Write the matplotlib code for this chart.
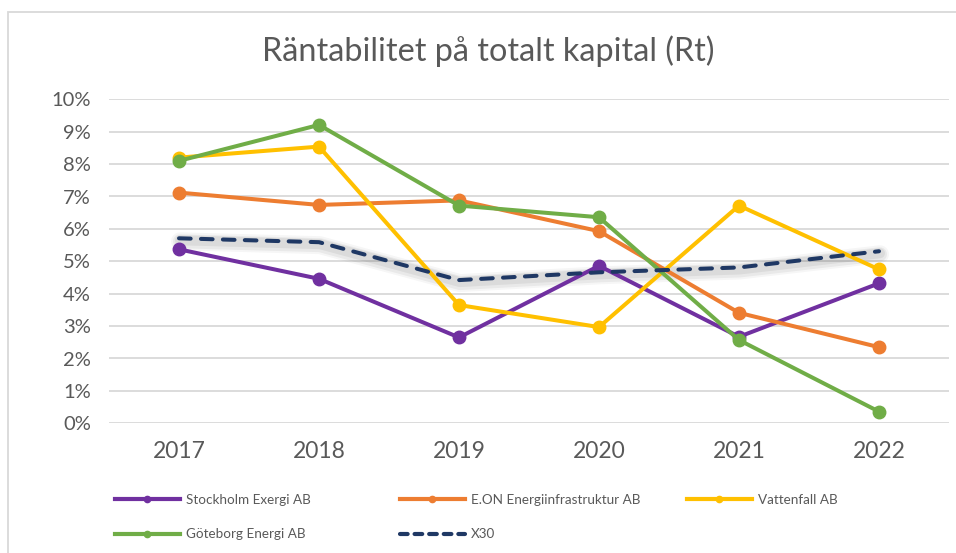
import matplotlib
matplotlib.use("Agg")
import matplotlib.pyplot as plt
import matplotlib.transforms as mtransforms
from matplotlib.patches import Rectangle
from matplotlib.lines import Line2D
from matplotlib.ticker import PercentFormatter

plt.rcParams['font.family'] = ['Lato', 'DejaVu Sans']
plt.rcParams['lines.scale_dashes'] = False

# ---- data ----
years = ["2017", "2018", "2019", "2020", "2021", "2022"]
stockholm = [5.37, 4.46, 2.65, 4.86, 2.67, 4.32]
eon = [7.12, 6.74, 6.88, 5.93, 3.41, 2.35]
vattenfall = [8.20, 8.54, 3.65, 2.97, 6.72, 4.75]
goteborg = [8.10, 9.21, 6.72, 6.36, 2.57, 0.36]
x30 = [5.71, 5.59, 4.42, 4.66, 4.81, 5.31]
yticks = [0, 1, 2, 3, 4, 5, 6, 7, 8, 9, 10]

names = ["Stockholm Exergi AB", "E.ON Energiinfrastruktur AB", "Vattenfall AB",
         "Göteborg Energi AB", "X30"]
colors = {"Stockholm Exergi AB": "#7030A0",
          "E.ON Energiinfrastruktur AB": "#ED7D31",
          "Vattenfall AB": "#FFC000",
          "Göteborg Energi AB": "#70AD47",
          "X30": "#1F3864"}
TEXT = "#595959"
GRID = "#D9D9D9"

W, H = 956, 553
fig = plt.figure(figsize=(W / 100, H / 100), dpi=100)
fig.patch.set_facecolor("white")

# chart border (extends past right/bottom edges of the image)
fig.add_artist(Rectangle((8 / W, -0.5), 2.0, 0.5 + (1 - 12 / H),
                         transform=fig.transFigure, fill=False,
                         edgecolor=GRID, linewidth=1.3))

left, right = 109 / W, 949 / W
bottom, top = 1 - 423.3 / H, 1 - 99.3 / H
ax = fig.add_axes([left, bottom, right - left, top - bottom])

x = list(range(len(years)))

# soft shadow for X30
for lw, a, dy in [(18, 0.035, -3), (14, 0.05, -3), (10, 0.06, -2)]:
    tr = mtransforms.offset_copy(ax.transData, fig=fig, x=1, y=dy, units='dots')
    ax.plot(x, x30, color="#000000", alpha=a, linewidth=lw * 0.72,
            solid_capstyle='round', solid_joinstyle='round', transform=tr, zorder=2)

series = [("Stockholm Exergi AB", stockholm), ("E.ON Energiinfrastruktur AB", eon),
          ("Vattenfall AB", vattenfall), ("Göteborg Energi AB", goteborg)]
for name, vals in series:
    ax.plot(x, vals, color=colors[name], linewidth=2.9, marker='o', markersize=9,
            solid_joinstyle='round', clip_on=False, zorder=3)

ax.plot(x, x30, color=colors["X30"], linewidth=2.9, dashes=(8.4, 7.4),
        dash_capstyle='round', dash_joinstyle='round', zorder=4)

ax.set_xlim(-0.5, len(years) - 0.5)
ax.set_ylim(0, 10)
ax.set_yticks(yticks)
ax.yaxis.set_major_formatter(PercentFormatter(decimals=0))
ax.set_xticks(x)
ax.set_xticklabels(years)
ax.grid(axis='y', color=GRID, linewidth=1.3)
ax.set_axisbelow(True)
for s in ax.spines.values():
    s.set_visible(False)
ax.tick_params(axis='y', length=0, pad=13, labelsize=14.5, labelcolor=TEXT)
ax.tick_params(axis='x', length=0, pad=13, labelsize=16.5, labelcolor=TEXT)

fig.text(488.5 / W, 1 - 61 / H, "Räntabilitet på totalt kapital (Rt)",
         ha='center', va='baseline', fontsize=23.3, color=TEXT)

# legend, three columns
def handle(name):
    if name == "X30":
        return Line2D([], [], color=colors[name], linewidth=3.0, dashes=(5.5, 5.0),
                      dash_capstyle='round')
    return Line2D([], [], color=colors[name], linewidth=3.0, marker='o', markersize=4.5)

fs = 9.7
cols = [(115, ["Stockholm Exergi AB", "Göteborg Energi AB"]),
        (400, ["E.ON Energiinfrastruktur AB", "X30"]),
        (687, ["Vattenfall AB"])]
for xpx, nms in cols:
    fig.legend([handle(n) for n in nms], nms, loc='upper left',
               bbox_to_anchor=(xpx / W, 1 - 494 / H), frameon=False,
               fontsize=fs, handlelength=4.8, handletextpad=0.45,
               labelspacing=1.65, borderpad=0, borderaxespad=0, labelcolor=TEXT)

fig.savefig("out.png", dpi=100)
